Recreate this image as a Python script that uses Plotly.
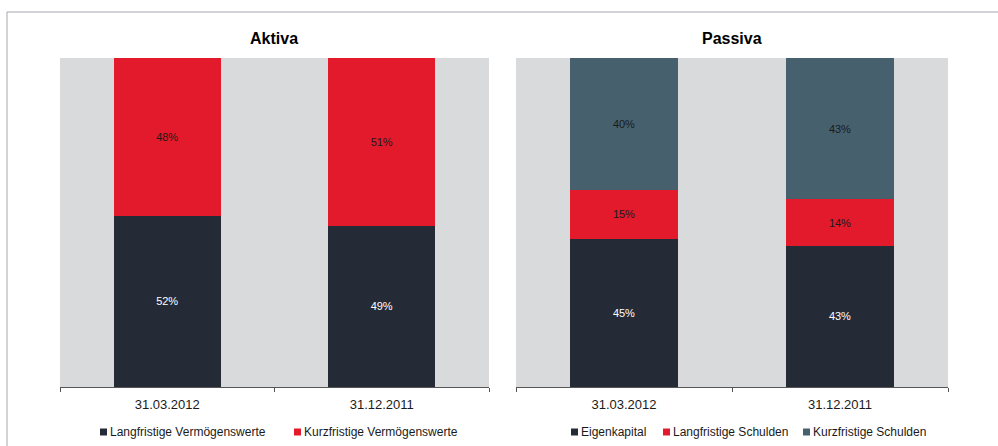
import plotly.graph_objects as go
from plotly.subplots import make_subplots

dates = ["31.03.2012", "31.12.2011"]

# Aktiva (in %)
langfristige_vw = [52, 49]
kurzfristige_vw = [48, 51]

# Passiva (in %)
eigenkapital = [45, 43]
langfristige_sch = [15, 14]
kurzfristige_sch = [40, 43]

colors = {'dark': '#252A37', 'red': '#E31A2C', 'teal': '#46616D'}
FONT = "Liberation Sans, Arial, sans-serif"
W, H = 998, 446

fig = make_subplots(rows=1, cols=2)


def add_bar(values, name, color, textcolor, col):
    fig.add_trace(go.Bar(
        x=dates, y=values, name=name,
        marker=dict(color=color, line=dict(width=0)),
        text=[f"{v}%" for v in values],
        textposition='inside', insidetextanchor='middle',
        textfont=dict(color=textcolor, size=11, family=FONT),
        width=0.5, showlegend=False,
    ), row=1, col=col)


add_bar(langfristige_vw, "Langfristige Vermögenswerte", colors['dark'], 'white', 1)
add_bar(kurzfristige_vw, "Kurzfristige Vermögenswerte", colors['red'], '#1A1A1A', 1)
add_bar(eigenkapital, "Eigenkapital", colors['dark'], 'white', 2)
add_bar(langfristige_sch, "Langfristige Schulden", colors['red'], '#1A1A1A', 2)
add_bar(kurzfristige_sch, "Kurzfristige Schulden", colors['teal'], '#1A1A1A', 2)

# legend rows like the original: small square right before each text
legend_x = [100, 294, 571, 663, 803]   # left edge of each square, px
legend_y = 432
shapes = [
    dict(type='rect', xref='paper', yref='paper', x0=7 / W, x1=1.01, y0=-0.01,
         y1=1 - 12 / H, line=dict(color='#A3A7AE', width=1), layer='below'),
]
annotations = [
    dict(text="<b>Aktiva</b>", x=274 / W, y=1 - 38 / H, xref='paper', yref='paper',
         xanchor='center', yanchor='middle', showarrow=False,
         font=dict(size=16, color='black', family=FONT)),
    dict(text="<b>Passiva</b>", x=732 / W, y=1 - 38 / H, xref='paper', yref='paper',
         xanchor='center', yanchor='middle', showarrow=False,
         font=dict(size=16, color='black', family=FONT)),
]
for t, lx in zip(fig.data, legend_x):
    shapes.append(dict(type='rect', xref='paper', yref='paper',
                       x0=lx / W, x1=(lx + 7) / W,
                       y0=1 - (legend_y + 3.5) / H, y1=1 - (legend_y - 3.5) / H,
                       fillcolor=t.marker.color, line=dict(width=0)))
    annotations.append(dict(text=t.name, x=(lx + 8) / W, y=1 - legend_y / H,
                            xref='paper', yref='paper', xanchor='left', yanchor='middle',
                            showarrow=False,
                            font=dict(size=12, color='#1A1A1A', family=FONT)))

y0 = 1 - 387 / H
y1 = 1 - 58 / H
axis_x = dict(showgrid=False, showline=True, linecolor='#555555', linewidth=1,
              ticks='outside', tickson='boundaries', ticklen=4, tickcolor='#555555',
              ticklabelstandoff=5,
              tickfont=dict(size=13, color='#1A1A1A', family=FONT))
axis_y = dict(range=[0, 100], visible=False, showgrid=False)

fig.update_layout(
    width=W, height=H,
    margin=dict(l=0, r=0, t=0, b=0),
    barmode='stack',
    paper_bgcolor='white',
    plot_bgcolor='#D9DADC',
    xaxis=dict(domain=[60 / W, 489 / W], **axis_x),
    xaxis2=dict(domain=[516 / W, 948 / W], **axis_x),
    yaxis=dict(domain=[y0, y1], **axis_y),
    yaxis2=dict(domain=[y0, y1], **axis_y),
    annotations=annotations,
    shapes=shapes,
)

# the page has an 8px body margin by default; remove it so the figure sits at 0,0
fig.write_html("out.html", config={'displayModeBar': False},
               post_script="document.body.style.margin='0';")
